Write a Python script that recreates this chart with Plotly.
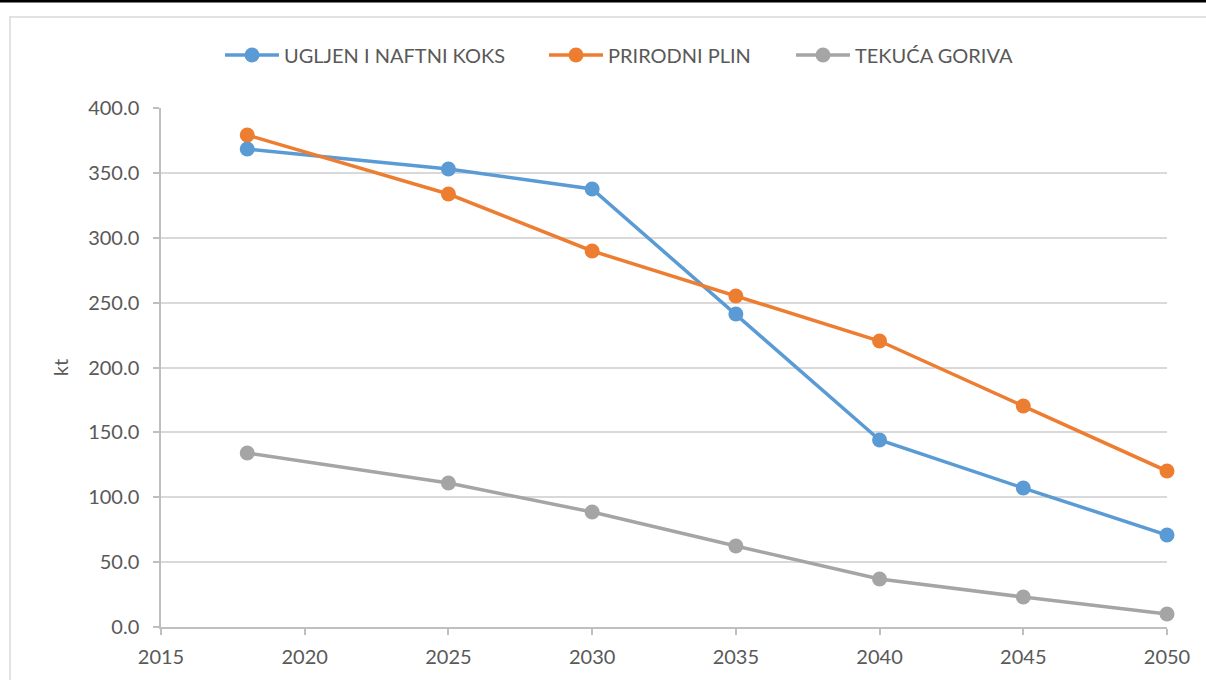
import plotly.graph_objects as go

years = [2018, 2025, 2030, 2035, 2040, 2045, 2050]
coal = [368.4, 353.0, 337.6, 241.2, 144.1, 107.1, 70.9]
gas = [379.2, 333.7, 289.8, 255.1, 220.4, 170.3, 120.2]
liquid = [134.1, 111.0, 88.6, 62.4, 37.0, 23.1, 10.0]
names = ["UGLJEN I NAFTNI KOKS", "PRIRODNI PLIN", "TEKUĆA GORIVA"]
colors = ["#5b9bd5", "#ed7d31", "#a5a5a5"]

W, H = 1206, 680
L, R, T, B = 161, 1167, 108, 627
pw, ph = R - L, B - T

def px(x):
    return (x - L) / pw

def py(y):
    return (B - y) / ph

legend_names = ["legend", "legend2", "legend3"]
legend_marker_x = [252, 576, 823]

fig = go.Figure()
for vals, name, c, lg in zip([coal, gas, liquid], names, colors, legend_names):
    fig.add_trace(go.Scatter(x=years, y=vals, name=name, mode="lines+markers",
                             line=dict(color=c, width=3.5),
                             marker=dict(color=c, size=15), legend=lg,
                             cliponaxis=False))

font = "Lato, 'Open Sans', sans-serif"
fsize = 20
legend_layout = {}
for lg, mx in zip(legend_names, legend_marker_x):
    legend_layout[lg] = dict(orientation="h", x=px(mx - 32), xanchor="left", y=py(55), yanchor="middle",
                             font=dict(size=fsize, color="#595959"), itemwidth=54,
                             bgcolor="rgba(0,0,0,0)")

fig.update_layout(
    width=W, height=H,
    margin=dict(l=L, r=W - R, t=T, b=H - B),
    paper_bgcolor="white", plot_bgcolor="white",
    font=dict(family=font, size=fsize, color="#595959"),
    showlegend=True,
    xaxis=dict(range=[2015, 2050], tickvals=[2015, 2020, 2025, 2030, 2035, 2040, 2045, 2050],
               showgrid=False, zeroline=False, showline=True, linecolor="#bfbfbf", linewidth=1.5,
               ticks="outside", ticklen=6, tickcolor="#bfbfbf", tickwidth=1.5,
               ticklabelstandoff=5,
               tickfont=dict(size=fsize, color="#595959")),
    yaxis=dict(range=[0, 400], dtick=50, tickformat=".1f",
               showgrid=True, gridcolor="#d9d9d9", gridwidth=1.5, zeroline=False,
               showline=True, linecolor="#bfbfbf", linewidth=1.5,
               ticks="outside", ticklen=6, tickcolor="#bfbfbf", tickwidth=1.5,
               ticklabelstandoff=10,
               tickfont=dict(size=fsize, color="#595959"),
               title=dict(text="kt", font=dict(size=fsize, color="#595959"), standoff=14)),
    shapes=[
        dict(type="rect", xref="paper", yref="paper", x0=px(10), x1=px(1215), y0=py(17), y1=py(700),
             line=dict(color="#d9d9d9", width=1.5), fillcolor="rgba(0,0,0,0)", layer="below"),
        dict(type="rect", xref="paper", yref="paper", x0=px(-10), x1=px(1220), y0=py(-5), y1=py(2.5),
             line=dict(width=0), fillcolor="black"),
    ],
    **legend_layout,
)

fig.write_html("out.html", config={"displayModeBar": False},
               post_script="document.body.style.margin='0';document.body.style.overflow='hidden';")
